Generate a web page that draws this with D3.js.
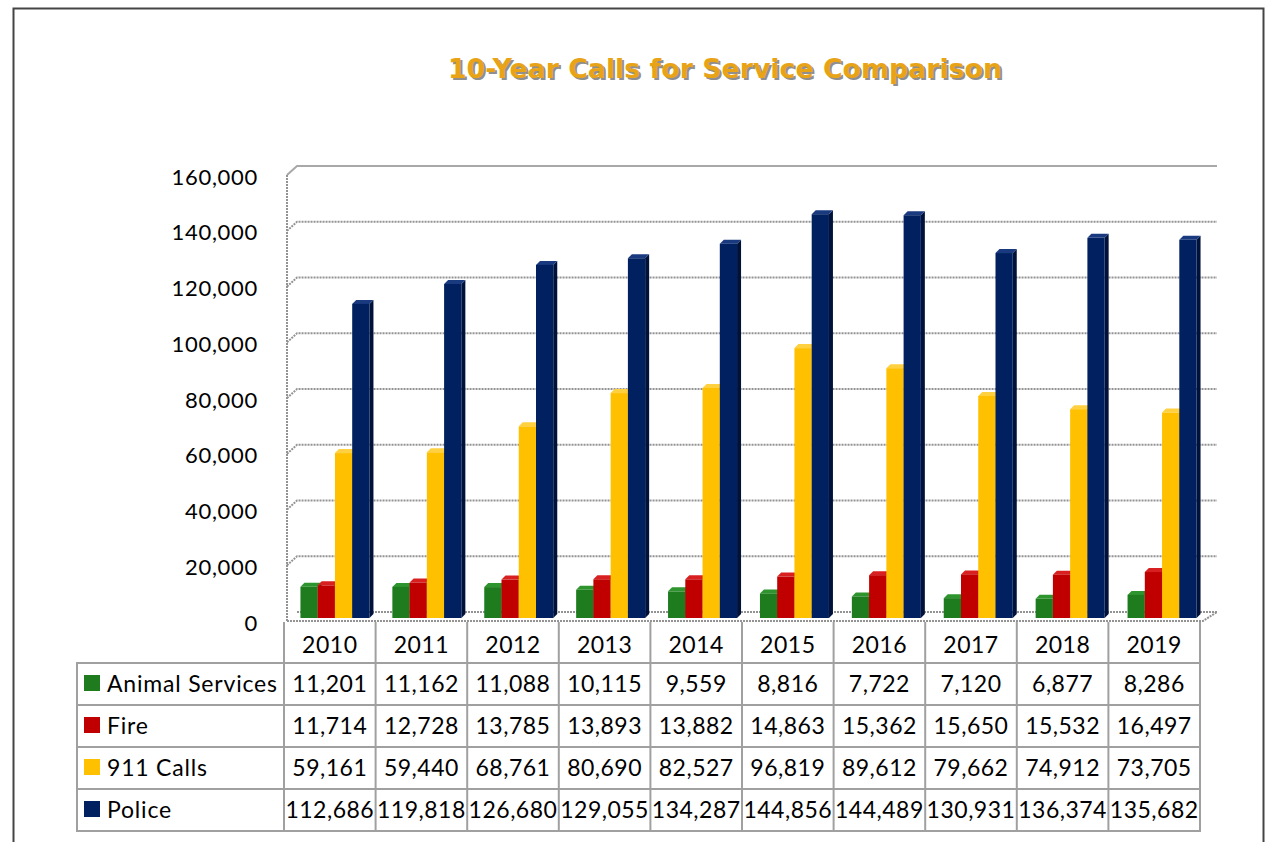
<!DOCTYPE html>
<html>
<head>
<meta charset="utf-8">
<script src="https://cdn.jsdelivr.net/npm/d3@7"></script>
<style>
body { margin: 0; background: #fff; }
text { font-family: Lato, "Open Sans", sans-serif; }
</style>
</head>
<body>
<svg id="chart" width="1266" height="842"></svg>
<script>
// values
var years = ['2010','2011','2012','2013','2014','2015','2016','2017','2018','2019']
var series = ['Animal Services','Fire','911 Calls','Police']
var animalServices = [11201,11162,11088,10115,9559,8816,7722,7120,6877,8286]
var fire = [11714,12728,13785,13893,13882,14863,15362,15650,15532,16497]
var calls911 = [59161,59440,68761,80690,82527,96819,89612,79662,74912,73705]
var police = [112686,119818,126680,129055,134287,144856,144489,130931,136374,135682]
var yTicks = [0,20000,40000,60000,80000,100000,120000,140000,160000]

var values = [animalServices, fire, calls911, police]
var colors = ['#1E7B1E','#C00000','#FFC000','#002060']
var sideColors = ['#0F4A0F','#7A0000','#C79200','#00113A']
var topColors = ['#2E942E','#D82020','#FFD040','#1A3A80']

var svg = d3.select('#chart')
var fmt = d3.format(',')

// outer frame
svg.append('rect')
	.attr('x',13.5).attr('y',8.5)
	.attr('width',1250).attr('height',900)
	.attr('fill','none')
	.attr('stroke','#444')
	.attr('stroke-width',2)

// title with shadow
var title = '10-Year Calls for Service Comparison'
svg.append('text')
	.attr('x',727).attr('y',79.5)
	.attr('text-anchor','middle')
	.style('font-family','"DejaVu Sans", sans-serif')
	.style('font-weight','bold')
	.style('font-size','26.8px')
	.attr('fill','#8f8f8f')
	.text(title)
svg.append('text')
	.attr('x',725).attr('y',78)
	.attr('text-anchor','middle')
	.style('font-family','"DejaVu Sans", sans-serif')
	.style('font-weight','bold')
	.style('font-size','26.8px')
	.attr('fill','#E8A317')
	.text(title)

// 3d walls
var dx = 10, dy = -9
var wallLeft = 287, wallRight = 1217
var yFront = d3.scaleLinear().domain([0,160000]).range([621,175])

var grid = svg.append('g')
yTicks.forEach(function(t){
	var y = yFront(t)
	var path = t === 0
		? 'M' + (wallLeft+dx) + ',' + (y+dy) + 'L' + wallRight + ',' + (y+dy)
		: 'M' + wallLeft + ',' + y + 'L' + (wallLeft+dx) + ',' + (y+dy) + 'L' + wallRight + ',' + (y+dy)
	grid.append('path')
		.attr('d',path)
		.attr('fill','none')
		.attr('stroke', t === 160000 ? '#a8a8a8' : '#939393')
		.attr('stroke-width',2)
		.attr('stroke-dasharray', t === 160000 ? null : '2,1')
})
// left edge
grid.append('line')
	.attr('x1',wallLeft).attr('x2',wallLeft)
	.attr('y1',yFront(160000)).attr('y2',yFront(0))
	.attr('stroke','#939393').attr('stroke-width',2)
	.attr('stroke-dasharray','2,1')
// floor front and right edge
grid.append('path')
	.attr('d','M' + wallLeft + ',' + yFront(0) + 'L1203,' + yFront(0) + 'L' + wallRight + ',' + (yFront(0)+dy))
	.attr('fill','none')
	.attr('stroke','#939393').attr('stroke-width',2)
	.attr('stroke-dasharray','2,1')

// y labels
svg.append('g').selectAll('text')
	.data(yTicks)
	.enter()
	.append('text')
	.attr('x',258)
	.attr('y',function(d){ return yFront(d) + 2 })
	.attr('dy','0.35em')
	.attr('text-anchor','end')
	.style('font-size','22px')
	.style('letter-spacing','0.7px')
	.attr('fill','#000')
	.text(function(d){ return fmt(d) })

// bars
var yBar = d3.scaleLinear().domain([0,160000]).range([618,172])
var x0 = d3.scaleBand().domain(years).range([289,1208])
var groupW = 69
var x1 = d3.scaleBand().domain(series).range([0,groupW])
var bw = x1.bandwidth()
var depth = 4
var bars = svg.append('g')
years.forEach(function(yr,i){
	series.forEach(function(s,j){
		var v = values[j][i]
		var x = x0(yr) + (x0.bandwidth()-groupW)/2 + x1(s)
		var y = yBar(v)
		var base = yBar(0)
		var g = bars.append('g')
		g.append('polygon')
			.attr('points',[[x+bw,y],[x+bw+depth,y-depth],[x+bw+depth,base-depth],[x+bw,base]].join(' '))
			.attr('fill',sideColors[j])
		g.append('polygon')
			.attr('points',[[x,y],[x+depth,y-depth],[x+bw+depth,y-depth],[x+bw,y]].join(' '))
			.attr('fill',topColors[j])
		g.append('rect')
			.attr('x',x).attr('y',y)
			.attr('width',bw).attr('height',base-y)
			.attr('fill',colors[j])
	})
})

// data table
var tx = d3.scaleBand().domain(years).range([284,1200])
var ty = d3.scaleBand().domain(series).range([663,831])
var labelLeft = 77
var table = svg.append('g')
var lineColor = '#a0a0a0'

// header columns (years)
var bounds = years.map(function(y){ return tx(y) }).concat([tx.range()[1]])
bounds.forEach(function(b){
	table.append('line')
		.attr('x1',b).attr('x2',b)
		.attr('y1',622).attr('y2',663)
		.attr('stroke',lineColor).attr('stroke-width',2)
})
table.selectAll('text.year')
	.data(years)
	.enter()
	.append('text')
	.attr('class','year')
	.attr('x',function(d){ return tx(d) + tx.bandwidth()/2 })
	.attr('y',645)
	.attr('dy','0.35em')
	.attr('text-anchor','middle')
	.style('font-size','23px')
	.style('letter-spacing','0.5px')
	.text(function(d){ return d })

// body grid
table.append('rect')
	.attr('x',labelLeft).attr('y',663)
	.attr('width',1200-labelLeft).attr('height',831-663)
	.attr('fill','none')
	.attr('stroke',lineColor).attr('stroke-width',2)
series.forEach(function(s){
	table.append('line')
		.attr('x1',labelLeft).attr('x2',1200)
		.attr('y1',ty(s)).attr('y2',ty(s))
		.attr('stroke',lineColor).attr('stroke-width',2)
})
bounds.slice(0,-1).forEach(function(b){
	table.append('line')
		.attr('x1',b).attr('x2',b)
		.attr('y1',663).attr('y2',831)
		.attr('stroke',lineColor).attr('stroke-width',2)
})

series.forEach(function(s,j){
	var cy = ty(s) + ty.bandwidth()/2
	table.append('rect')
		.attr('x',84).attr('y',cy-9)
		.attr('width',16).attr('height',16)
		.attr('fill',colors[j])
	table.append('text')
		.attr('x',107).attr('y',cy)
		.attr('dy','0.35em')
		.style('font-size','23px')
		.style('letter-spacing','0.8px')
		.text(s)
	table.selectAll('text.v' + j)
		.data(values[j])
		.enter()
		.append('text')
		.attr('class','v' + j)
		.attr('x',function(d,i){ return tx(years[i]) + tx.bandwidth()/2 })
		.attr('y',cy)
		.attr('dy','0.35em')
		.attr('text-anchor','middle')
		.style('font-size','23px')
		.style('letter-spacing','0.5px')
		.text(function(d){ return fmt(d) })
})
</script>
</body>
</html>
